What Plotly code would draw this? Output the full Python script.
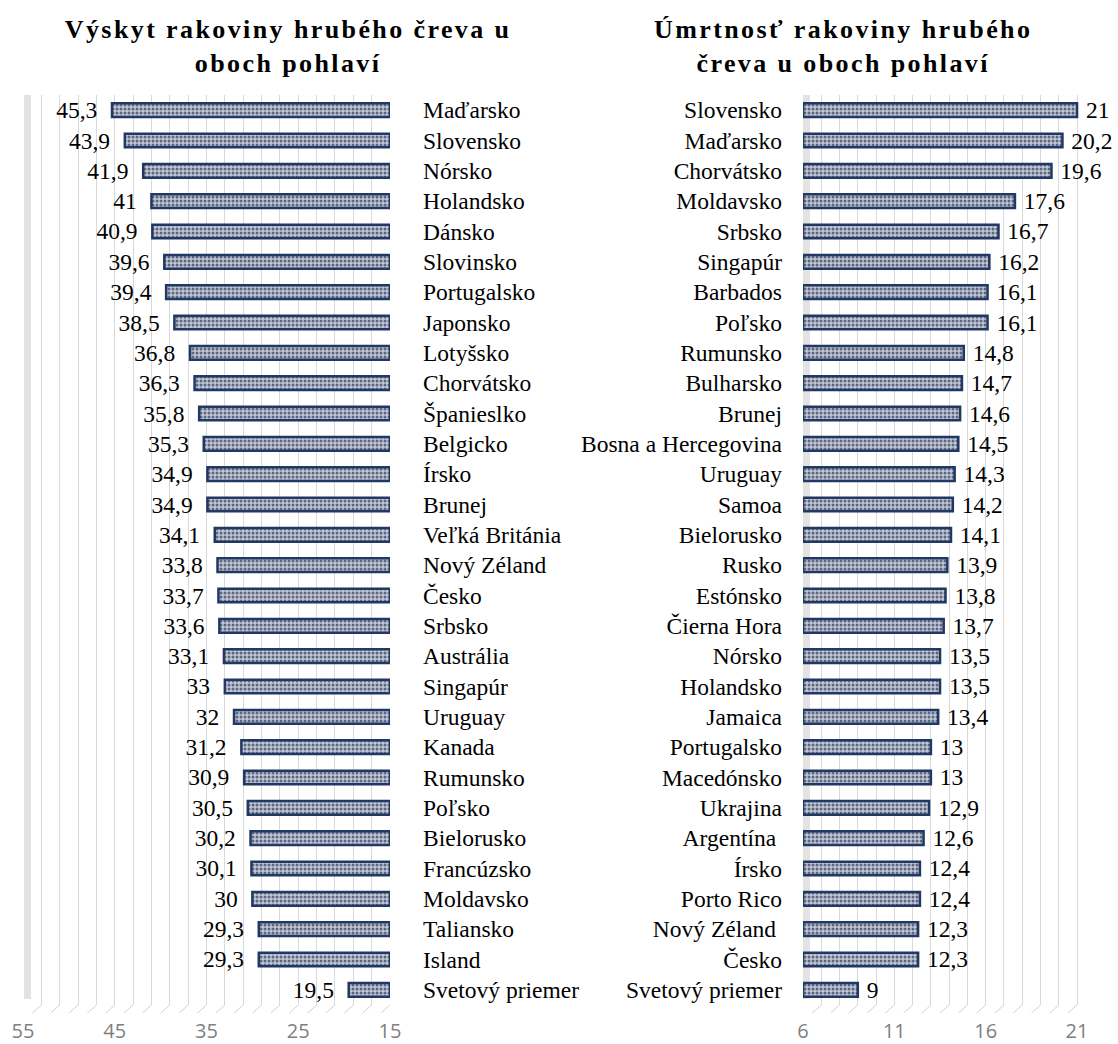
import plotly.graph_objects as go

# ---- data ----
inc_countries = ["Maďarsko", "Slovensko", "Nórsko", "Holandsko", "Dánsko", "Slovinsko",
                 "Portugalsko", "Japonsko", "Lotyšsko", "Chorvátsko", "Španieslko", "Belgicko",
                 "Írsko", "Brunej", "Veľká Británia", "Nový Zéland", "Česko", "Srbsko",
                 "Austrália", "Singapúr", "Uruguay", "Kanada", "Rumunsko", "Poľsko",
                 "Bielorusko", "Francúzsko", "Moldavsko", "Taliansko", "Island", "Svetový priemer"]
inc_values = [45.3, 43.9, 41.9, 41, 40.9, 39.6, 39.4, 38.5, 36.8, 36.3, 35.8, 35.3,
              34.9, 34.9, 34.1, 33.8, 33.7, 33.6, 33.1, 33, 32, 31.2, 30.9, 30.5,
              30.2, 30.1, 30, 29.3, 29.3, 19.5]

mort_countries = ["Slovensko", "Maďarsko", "Chorvátsko", "Moldavsko", "Srbsko", "Singapúr",
                  "Barbados", "Poľsko", "Rumunsko", "Bulharsko", "Brunej", "Bosna a Hercegovina",
                  "Uruguay", "Samoa", "Bielorusko", "Rusko", "Estónsko", "Čierna Hora",
                  "Nórsko", "Holandsko", "Jamaica", "Portugalsko", "Macedónsko", "Ukrajina",
                  "Argentína ", "Írsko", "Porto Rico", "Nový Zéland ", "Česko", "Svetový priemer"]
mort_values = [21, 20.2, 19.6, 17.6, 16.7, 16.2, 16.1, 16.1, 14.8, 14.7, 14.6, 14.5,
               14.3, 14.2, 14.1, 13.9, 13.8, 13.7, 13.5, 13.5, 13.4, 13, 13, 12.9,
               12.6, 12.4, 12.4, 12.3, 12.3, 9]

inc_title = "Výskyt rakoviny hrubého čreva u<br>oboch pohlaví"
mort_title = "Úmrtnosť rakoviny hrubého<br>čreva u oboch pohlaví"

inc_axis = (55, 15)
mort_axis = (6, 21.6)

W, H = 1118, 1044
NB = "\u00a0"


def fmt(v):
    return ("%g" % v).replace(".", ",")


serif = "Liberation Serif, Times New Roman, serif"
bar_line = "#1f3864"
pattern = dict(shape=".", size=4, solidity=0.45, fgcolor="#5a6684", bgcolor="#c3c7d0",
               fillmode="replace")
lab_size = 23.5

fig = go.Figure()

inc_pos = list(range(len(inc_countries)))
mort_pos = list(range(len(mort_countries)))

fig.add_trace(go.Bar(
    y=inc_pos, x=[v - inc_axis[1] for v in inc_values], base=inc_axis[1],
    orientation="h", width=0.45,
    marker=dict(color="#c3c7d0", line=dict(color=bar_line, width=2.5), pattern=pattern),
    text=[fmt(v) + NB + NB for v in inc_values], textposition="outside", cliponaxis=False,
    constraintext="none",
    textfont=dict(family=serif, size=lab_size, color="#000000"),
    xaxis="x", yaxis="y", showlegend=False, hoverinfo="skip"))

fig.add_trace(go.Bar(
    y=mort_pos, x=[v - mort_axis[0] for v in mort_values], base=mort_axis[0],
    orientation="h", width=0.45,
    marker=dict(color="#c3c7d0", line=dict(color=bar_line, width=2.5), pattern=pattern),
    text=[NB + fmt(v) for v in mort_values], textposition="outside", cliponaxis=False,
    constraintext="none",
    textfont=dict(family=serif, size=lab_size, color="#000000"),
    xaxis="x2", yaxis="y2", showlegend=False, hoverinfo="skip"))

top_px, bot_px = 95, 1005
ydom = [(H - bot_px) / H, (H - top_px) / H]
n = len(inc_countries)

grid_c = "#d9d9d9"
tickfont = dict(family="Open Sans, Calibri, sans-serif", size=20, color="#7f7f7f")

x1_dom = [23 / W, 390 / W]
x2_dom = [803 / W, (803 + 15.6 * 18.27) / W]

fig.update_layout(
    width=W, height=H,
    margin=dict(l=0, r=0, t=0, b=0, pad=0),
    paper_bgcolor="white", plot_bgcolor="white",
    xaxis=dict(domain=x1_dom, range=list(inc_axis), anchor="y", automargin=False,
               tickmode="linear", tick0=15, dtick=10, showgrid=True, gridcolor=grid_c,
               gridwidth=1, minor=dict(dtick=2, tick0=15, showgrid=True, gridcolor=grid_c),
               zeroline=False, showline=False, ticks="", tickfont=tickfont,
               ticklabelstandoff=12),
    yaxis=dict(domain=ydom, range=[n - 0.5, -0.5], anchor="x", side="right", automargin=False,
               tickmode="array", tickvals=inc_pos, ticktext=inc_countries,
               showgrid=False, zeroline=False, showline=False, ticks="",
               tickfont=dict(family=serif, size=lab_size, color="#000000"),
               ticklabelstandoff=32),
    xaxis2=dict(domain=x2_dom, range=list(mort_axis), anchor="y2", automargin=False,
                tickmode="linear", tick0=6, dtick=5, showgrid=True, gridcolor=grid_c,
                gridwidth=1, minor=dict(dtick=1, tick0=6, showgrid=True, gridcolor=grid_c),
                zeroline=False, showline=False, ticks="", tickfont=tickfont,
                ticklabelstandoff=12),
    yaxis2=dict(domain=ydom, range=[n - 0.5, -0.5], anchor="x2", side="left", automargin=False,
                tickmode="array", tickvals=mort_pos, ticktext=mort_countries,
                showgrid=False, zeroline=False, showline=False, ticks="",
                tickfont=dict(family=serif, size=lab_size, color="#000000"),
                ticklabelstandoff=20),
)

# hatched side walls (decoration)
fig.add_shape(type="rect", xref="paper", yref="paper", x0=x1_dom[0] + 1 / W, x1=x1_dom[0] + 8 / W,
              y0=ydom[0] + 6 / H, y1=ydom[1], line=dict(width=0), fillcolor="#e3e3e3",
              layer="below")
fig.add_shape(type="rect", xref="paper", yref="paper", x0=x2_dom[0], x1=x2_dom[0] + 7 / W,
              y0=ydom[0] + 6 / H, y1=ydom[1], line=dict(width=0), fillcolor="#e3e3e3",
              layer="below")

# slanted floor strokes under each gridline (decoration)
for ax, lo, hi, step in (("x", 15, 55, 2), ("x2", 6, 21, 1)):
    v = lo
    while v <= hi + 1e-9:
        fig.add_shape(type="line", xref=ax, yref="paper", xsizemode="pixel",
                      ysizemode="pixel", xanchor=v, yanchor=ydom[0],
                      x0=-9, x1=0, y0=-8, y1=0,
                      line=dict(color="#d0d0d0", width=1), layer="below")
        v += step

title_font = dict(family=serif, size=26, color="#000000", weight="bold")
fig.add_annotation(text=inc_title, xref="paper", yref="paper", x=288 / W, y=1 - 13 / H,
                   xanchor="center", yanchor="top", showarrow=False, font=title_font)
fig.add_annotation(text=mort_title, xref="paper", yref="paper", x=843 / W, y=1 - 13 / H,
                   xanchor="center", yanchor="top", showarrow=False, font=title_font)

post = """
var gd = document.getElementById('{plot_id}');
function sp(){ gd.querySelectorAll('.annotation-text').forEach(function(e){ e.style.letterSpacing='2.4px'; }); }
sp();
gd.on('plotly_afterplot', sp);
"""

fig.write_html("out.html", post_script=post)
